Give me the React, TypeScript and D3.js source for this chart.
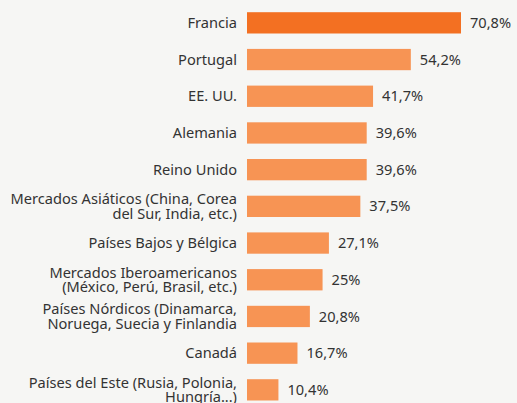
import React from "react";
import * as d3 from "d3";

const categories: string[][] = [
  ["Francia"],
  ["Portugal"],
  ["EE. UU."],
  ["Alemania"],
  ["Reino Unido"],
  ["Mercados Asiáticos (China, Corea", "del Sur, India, etc.)"],
  ["Países Bajos y Bélgica"],
  ["Mercados Iberoamericanos", "(México, Perú, Brasil, etc.)"],
  ["Países Nórdicos (Dinamarca,", "Noruega, Suecia y Finlandia"],
  ["Canadá"],
  ["Países del Este (Rusia, Polonia,", "Hungría...)"],
];
const values: number[] = [70.8, 54.2, 41.7, 39.6, 39.6, 37.5, 27.1, 25, 20.8, 16.7, 10.4];
const valueLabels: string[] = ["70,8%", "54,2%", "41,7%", "39,6%", "39,6%", "37,5%", "27,1%", "25%", "20,8%", "16,7%", "10,4%"];

const W = 517;
const H = 403;
const FONT = "'Noto Sans', sans-serif";
const FS = 14.6;

export default function App() {
  const x0 = 247;
  const x = d3.scaleLinear().domain([0, 70.8]).range([x0, 461]);
  const y = d3
    .scaleBand<number>()
    .domain(d3.range(values.length))
    .range([4.5, 4.5 + 36.7 * values.length])
    .paddingInner(0.42)
    .paddingOuter(0.21);
  const bw = y.bandwidth();
  return (
    <svg
      width={W}
      height={H}
      style={{ position: "absolute", left: 0, top: 0, background: "#f6f6f4" }}
    >
      <rect width={W} height={H} fill="#f6f6f4" />
      {values.map((v, i) => {
        const yc = (y(i) as number) + bw / 2;
        const lines = categories[i];
        const lh = 14.3;
        return (
          <g key={i}>
            <rect
              x={x0}
              y={y(i)}
              width={x(v) - x0}
              height={bw}
              fill={i === 0 ? "#f37022" : "#f79454"}
            />
            <text
              x={237}
              textAnchor="end"
              fontFamily={FONT}
              fontSize={FS}
              fill="#333"
            >
              {lines.map((l, j) => (
                <tspan
                  key={j}
                  x={237}
                  y={yc + (j - (lines.length - 1) / 2) * lh}
                  dy="0.35em"
                >
                  {l}
                </tspan>
              ))}
            </text>
            <text
              x={x(v) + 9}
              y={yc}
              dy="0.35em"
              fontFamily={FONT}
              fontSize={FS}
              fill="#333"
            >
              {valueLabels[i]}
            </text>
          </g>
        );
      })}
    </svg>
  );
}
